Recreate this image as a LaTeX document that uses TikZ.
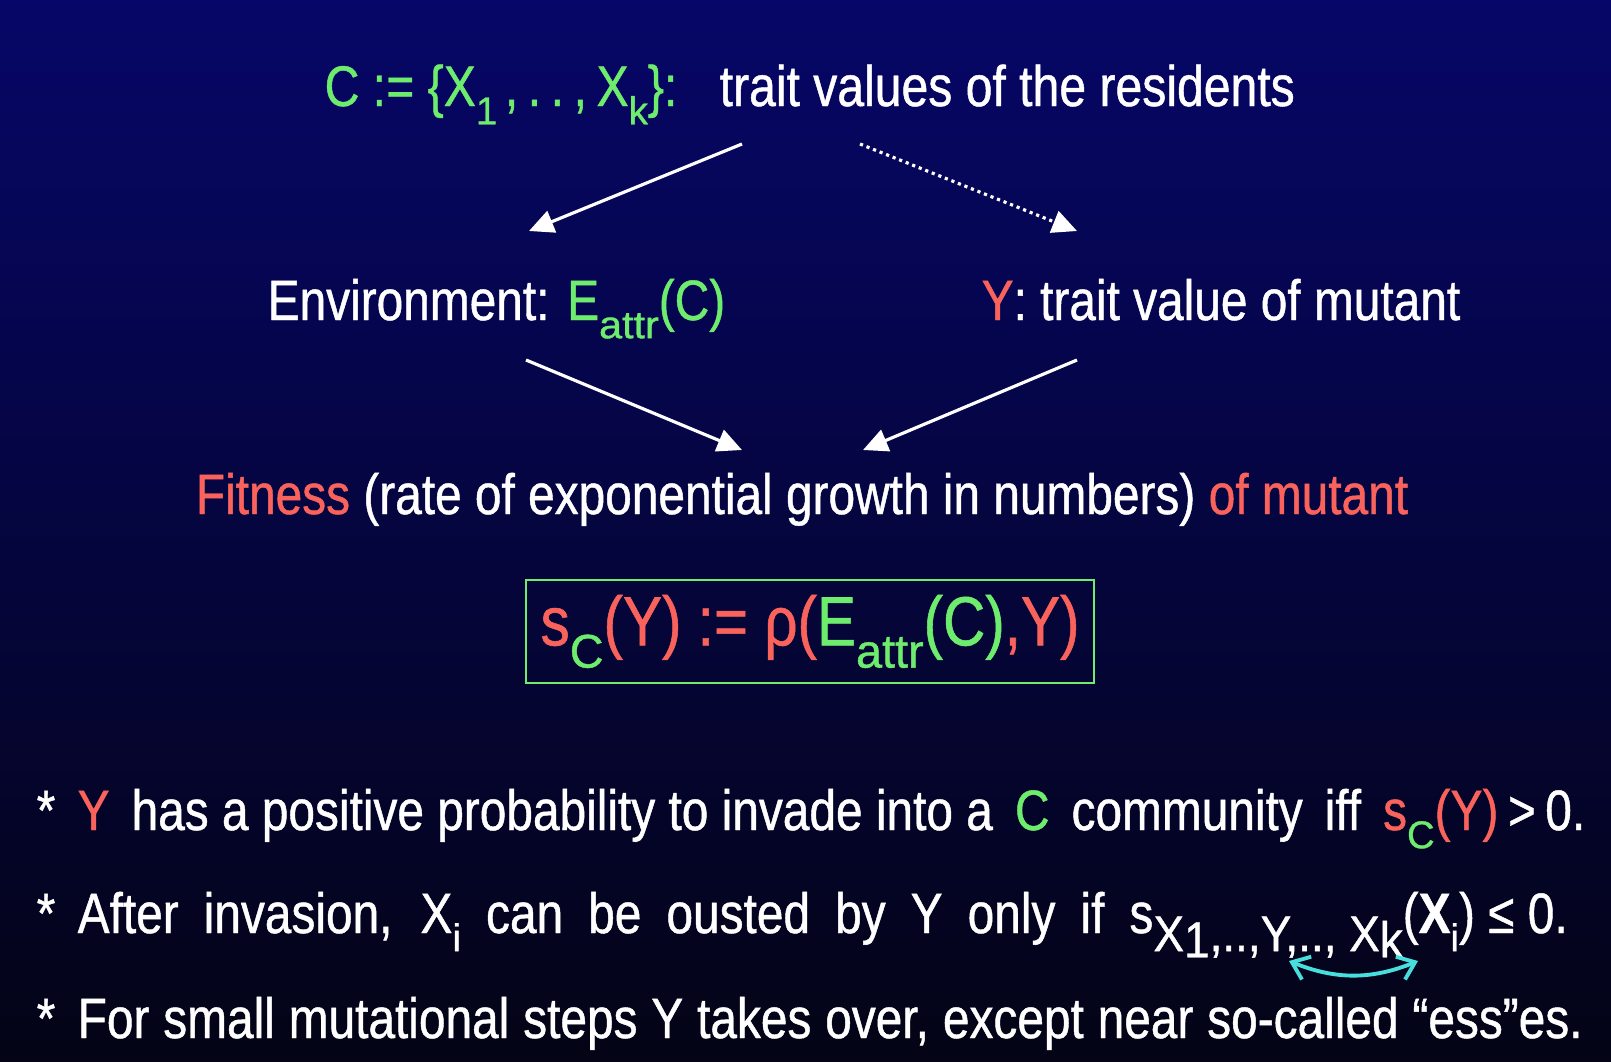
\documentclass[tikz,border=0pt]{standalone}
\usepackage{fontspec}
\setmainfont{Liberation Sans}[FakeStretch=0.84, FakeBold=0.8]
\usepackage{xcolor}
\usetikzlibrary{arrows.meta, positioning}

\definecolor{navytop}{RGB}{6,6,104}
\definecolor{navybot}{RGB}{4,4,22}
\definecolor{resgreen}{RGB}{110,236,110}
\definecolor{mutred}{RGB}{250,98,92}
\definecolor{swapcyan}{RGB}{72,222,222}

\newcommand{\lsub}[1]{\raisebox{-0.32em}{\scalebox{0.8}[0.68]{#1}}}
\newcommand{\gr}[1]{\textcolor{resgreen}{#1}}
\newcommand{\rd}[1]{\textcolor{mutred}{#1}}
\newcommand{\wgap}{\hspace{0.22cm}}

\tikzset{
  txt/.style={inner sep=0pt, text=white, font=\fontsize{16.2}{19}\selectfont, anchor=base west},
  toptxt/.style={txt, font=\fontsize{16.3}{20}\selectfont},
  bigtxt/.style={inner sep=0pt, font=\fontsize{19.8}{24}\selectfont},
  flow/.style={-{Triangle[length=7pt,width=6.5pt]}, white, line width=0.9pt},
}

\begin{document}
\begin{tikzpicture}
      \shade[top color=navytop, bottom color=navybot] (0,0) rectangle (16.11,10.61);

      % residents and their two consequences
      \node[toptxt] (cdef) at (3.24,9.55) {\gr{C := \{X\lsub{1\,},\,.\,.\,,\,X\lsub{k}\}:}};
      \node[toptxt] (traitres) at (7.19,9.55) {trait values of the residents};
      \node[txt] (envi) at (2.67,7.41) {Environment: \gr{E\lsub{\scalebox{1.08}[1]{attr}}(C)}};
      \node[txt] (muty) at (9.81,7.41) {\rd{Y}: trait value of mutant};
      \node[txt, anchor=base] (fitn) at (8.02,5.47) {\rd{Fitness} (rate of exponential growth in numbers) \rd{of mutant}};

      \node[draw=resgreen, line width=0.6pt, minimum width=5.68cm, minimum height=1.03cm, bigtxt] (fitbox) at (8.10,4.295)
        {\rd{s\lsub{\gr{C}}(Y) := ρ(}\gr{E\lsub{attr}(C)}\rd{,Y)}};

      \coordinate (a1s) at (7.42,9.17);
      \coordinate (a1e) at (5.29,8.30);
      \coordinate (a2s) at (8.60,9.17);
      \coordinate (a2e) at (10.77,8.30);
      \coordinate (a3s) at (5.26,7.01);
      \coordinate (a3e) at (7.42,6.11);
      \coordinate (a4s) at (10.77,7.01);
      \coordinate (a4e) at (8.63,6.11);

      \draw[flow] (a1s) -- (a1e);
      \draw[flow, dash pattern=on 0.9pt off 1.1pt] (a2s) -- (a2e);
      \draw[flow] (a3s) -- (a3e);
      \draw[flow] (a4s) -- (a4e);

      % the three statements
      \node[txt] (st1) at (0.36,2.31) {*};
      \node[txt] (b1) at (0.77,2.31) {\rd{Y}\wgap has a positive probability to invade into a\wgap\gr{C}\wgap community\wgap iff\wgap\rd{s\lsub{\gr{C}}(Y)}\,>\,0.};
      \node[txt] (st2) at (0.36,1.28) {*};
      \node[txt] (b2) at (0.77,1.28) {\makebox[14.90cm][s]{After invasion, X\lsub{i} can be ousted by Y only if \mbox{s\lsub{\scalebox{1.2}[1.3]{X\raisebox{-0.12em}{1},..,Y,.., X\raisebox{-0.12em}{k}}}(\textbf{X}\lsub{i}) ≤ 0.}}};
      \node[txt] (st3) at (0.36,0.23) {*};
      \node[txt] (b3) at (0.77,0.23) {\makebox[15.05cm][s]{For small mutational steps Y takes over, except near so-called “ess”es.}};

      \coordinate (swl) at (12.89,1.00);
      \coordinate (swr) at (14.18,1.00);
      \draw[{Straight Barb[length=4.5pt,width=7pt]}-{Straight Barb[length=4.5pt,width=7pt]}, swapcyan, line width=1.1pt] (swl) to[bend right=22] (swr);
\end{tikzpicture}
\end{document}
